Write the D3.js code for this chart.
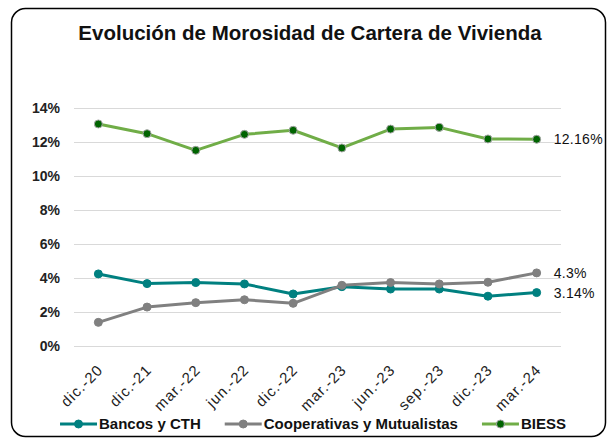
<!DOCTYPE html>
<html>
<head>
<meta charset="utf-8">
<script src="https://cdn.jsdelivr.net/npm/d3@7"></script>
<style>
  html, body { margin: 0; padding: 0; background: #fff; }
  svg { display: block; font-family: "Liberation Sans", Arial, sans-serif; }
</style>
</head>
<body>
<div id="chart"></div>
<script>
const categories = ["dic.-20", "dic.-21", "mar.-22", "jun.-22", "dic.-22", "mar.-23", "jun.-23", "sep.-23", "dic.-23", "mar.-24"];
const bancos = [4.24, 3.67, 3.73, 3.65, 3.06, 3.49, 3.35, 3.35, 2.93, 3.14];
const cooperativas = [1.39, 2.29, 2.55, 2.72, 2.51, 3.57, 3.73, 3.65, 3.75, 4.3];
const biess = [13.06, 12.49, 11.51, 12.45, 12.69, 11.65, 12.76, 12.86, 12.18, 12.16];
const yTicks = [0, 2, 4, 6, 8, 10, 12, 14];
const lastLabels = ["3.14%", "4.3%", "12.16%"];

const series = [
  {name: "Bancos y CTH", values: bancos, line: "#008080", dot: "#008080", ring: "#008080", label: lastLabels[0]},
  {name: "Cooperativas y Mutualistas", values: cooperativas, line: "#808080", dot: "#808080", ring: "#808080", label: lastLabels[1]},
  {name: "BIESS", values: biess, line: "#70ad47", dot: "#006400", ring: "#a5a5a5", label: lastLabels[2]}
];

const width = 609, height = 443;
const plot = {left: 74, right: 561, top: 108, bottom: 346};

const svg = d3.select("#chart").append("svg")
  .attr("width", width)
  .attr("height", height);

// frame
svg.append("rect")
  .attr("x", 11.5).attr("y", 8.5)
  .attr("width", 594).attr("height", 428)
  .attr("rx", 14)
  .attr("fill", "#fff")
  .attr("stroke", "#000")
  .attr("stroke-width", 1.5);

svg.append("text")
  .attr("x", 310).attr("y", 40)
  .attr("text-anchor", "middle")
  .attr("font-size", 20.5)
  .attr("font-weight", "bold")
  .attr("fill", "#111")
  .text("Evolución de Morosidad de Cartera de Vivienda");

const x = d3.scalePoint().domain(categories).range([plot.left, plot.right]).padding(0.5);
const y = d3.scaleLinear().domain([0, 14]).range([plot.bottom, plot.top]);

// y axis + grid
const yAxis = svg.append("g")
  .attr("transform", `translate(${plot.left},0)`)
  .call(d3.axisLeft(y).tickValues(yTicks).tickSize(-(plot.right - plot.left)).tickPadding(14).tickFormat(d => d + "%"));
yAxis.select(".domain").remove();
yAxis.selectAll("line").attr("stroke", "#d9d9d9").attr("stroke-width", 1);
yAxis.selectAll("text")
  .attr("font-size", 14).attr("font-weight", "bold").attr("fill", "#222")
  .attr("font-family", "Liberation Sans, Arial, sans-serif");

// x axis labels, rotated 45deg
const xAxis = svg.append("g")
  .attr("transform", `translate(0,${plot.bottom})`)
  .call(d3.axisBottom(x).tickSize(0).tickPadding(0));
xAxis.select(".domain").remove();
xAxis.selectAll("text")
  .attr("font-size", 15).attr("fill", "#222")
  .attr("letter-spacing", 1)
  .attr("font-family", "Liberation Sans, Arial, sans-serif")
  .attr("text-anchor", "end")
  .attr("dy", null).attr("y", 0)
  .attr("transform", "translate(5,25) rotate(-45)");

const line = d3.line().x((d, i) => x(categories[i])).y(d => y(d));

const g = svg.append("g");
series.forEach(s => {
  g.append("path")
    .datum(s.values)
    .attr("d", line)
    .attr("fill", "none")
    .attr("stroke", s.line)
    .attr("stroke-width", 3)
    .attr("stroke-linejoin", "round");
  g.selectAll(null)
    .data(s.values)
    .join("circle")
    .attr("cx", (d, i) => x(categories[i]))
    .attr("cy", d => y(d))
    .attr("r", 4)
    .attr("fill", s.dot)
    .attr("stroke", s.ring)
    .attr("stroke-width", 1);
  const last = s.values[s.values.length - 1];
  g.append("text")
    .attr("x", x(categories[categories.length - 1]) + 17)
    .attr("y", y(last))
    .attr("dy", "0.35em")
    .attr("font-size", 14)
    .attr("letter-spacing", 0.3)
    .attr("fill", "#111")
    .text(s.label);
});

// legend
const legend = svg.append("g").attr("transform", "translate(0,424)");
const items = legend.selectAll("g").data(series).join("g");
items.append("line")
  .attr("x1", 0).attr("x2", 37)
  .attr("stroke", d => d.line).attr("stroke-width", 3);
items.append("circle")
  .attr("cx", 18.5).attr("r", 4)
  .attr("fill", d => d.dot).attr("stroke", d => d.ring).attr("stroke-width", 1);
items.append("text")
  .attr("x", 39).attr("dy", "0.35em")
  .attr("font-size", 15).attr("font-weight", "bold").attr("fill", "#111")
  .text(d => d.name);
let widths = [];
items.each(function() { widths.push(39 + this.querySelector("text").getComputedTextLength()); });
const gap = 24;
const total = d3.sum(widths) + gap * (widths.length - 1);
let cx = 313 - total / 2;
items.attr("transform", (d, i) => {
  const t = `translate(${cx},0)`;
  cx += widths[i] + gap;
  return t;
});
</script>
</body>
</html>
